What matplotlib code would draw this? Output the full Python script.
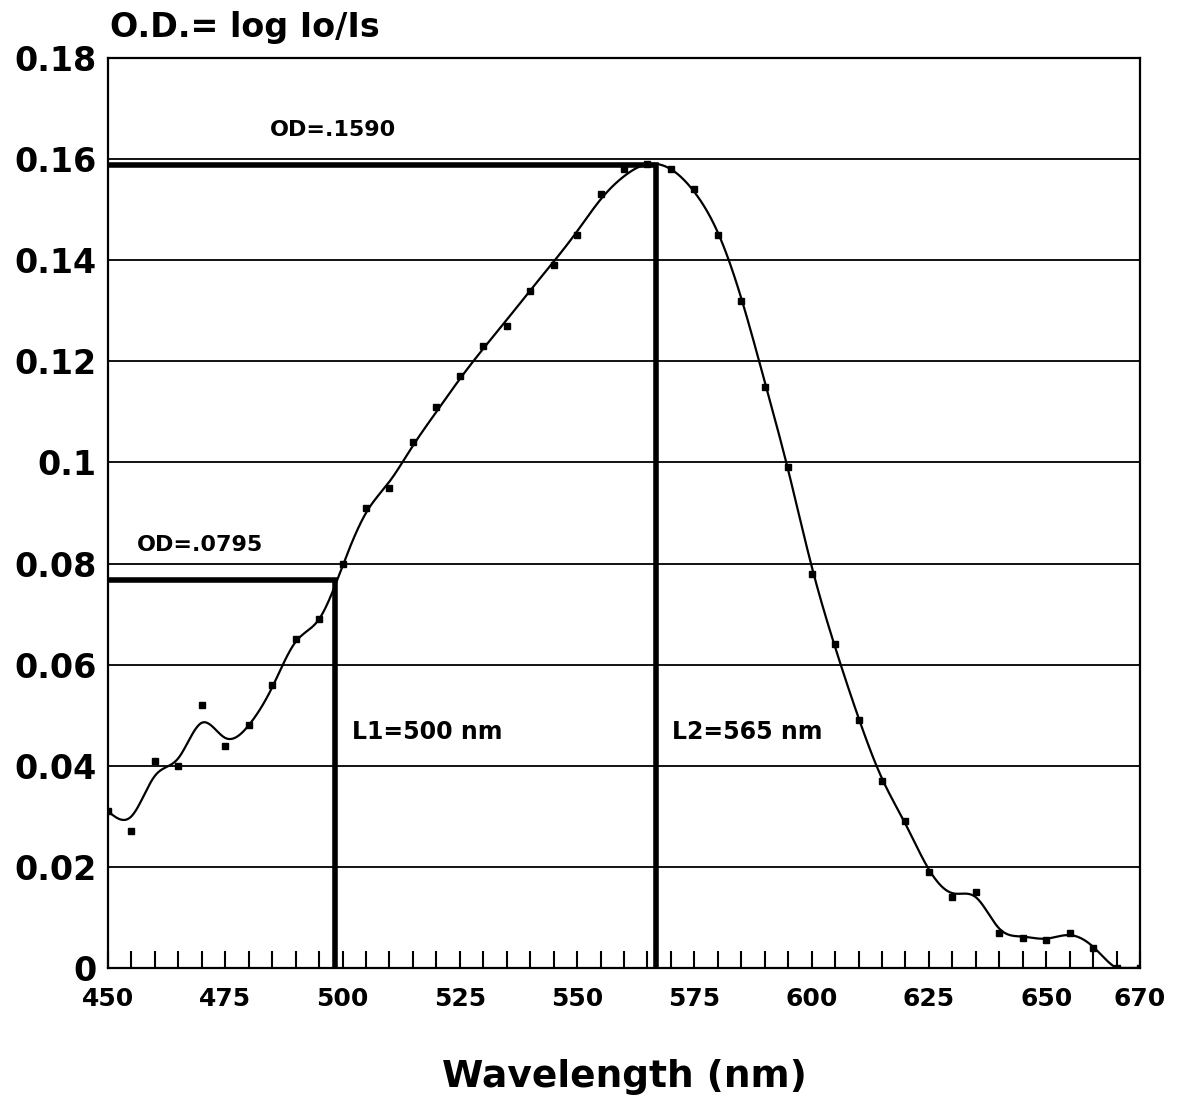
import numpy as np
import matplotlib.pyplot as plt

plt.rcParams['font.family'] = ['DejaVu Sans']
plt.rcParams['font.weight'] = 'bold'

# measured points, every 5 nm
wavelength = np.arange(450, 671, 5)
od_measured = [0.031, 0.027, 0.041, 0.040, 0.052, 0.044, 0.048, 0.056, 0.065, 0.069,
               0.080, 0.091, 0.095, 0.104, 0.111, 0.117, 0.123, 0.127, 0.134, 0.139,
               0.145, 0.153, 0.158, 0.159, 0.158, 0.154, 0.145, 0.132, 0.115, 0.099,
               0.078, 0.064, 0.049, 0.037, 0.029, 0.019, 0.014, 0.015, 0.007, 0.006,
               0.0055, 0.007, 0.004, 0.0, 0.0]
# smoothed curve as drawn (at the same wavelengths)
od_curve = [0.031, 0.030, 0.038, 0.0415, 0.0485, 0.0455, 0.048, 0.0555, 0.0645, 0.069,
            0.0795, 0.0900, 0.0962, 0.1033, 0.1100, 0.1165, 0.1225, 0.1282, 0.1340, 0.1397,
            0.1457, 0.1520, 0.1566, 0.1590, 0.1580, 0.1535, 0.1455, 0.1325, 0.1160, 0.0985,
            0.0795, 0.0635, 0.0495, 0.0375, 0.0285, 0.0195, 0.0148, 0.0140, 0.0078, 0.0062,
            0.0058, 0.0065, 0.0042, 0.0, 0.0]

# half-height markers as drawn
l1_x, l1_od = 498.3, 0.0768
l2_x, l2_od = 566.8, 0.1589

xtick_vals = [450, 475, 500, 525, 550, 575, 600, 625, 650, 670]
ytick_vals = [0, 0.02, 0.04, 0.06, 0.08, 0.1, 0.12, 0.14, 0.16, 0.18]
ytick_labels = ['0', '0.02', '0.04', '0.06', '0.08', '0.1', '0.12', '0.14', '0.16', '0.18']


def natural_spline(x, y, xs):
    x = np.asarray(x, float)
    y = np.asarray(y, float)
    n = len(x)
    h = np.diff(x)
    A = np.zeros((n, n))
    b = np.zeros(n)
    A[0, 0] = A[-1, -1] = 1
    for i in range(1, n - 1):
        A[i, i - 1] = h[i - 1]
        A[i, i] = 2 * (h[i - 1] + h[i])
        A[i, i + 1] = h[i]
        b[i] = 6 * ((y[i + 1] - y[i]) / h[i] - (y[i] - y[i - 1]) / h[i - 1])
    m = np.linalg.solve(A, b)
    idx = np.clip(np.searchsorted(x, xs) - 1, 0, n - 2)
    t = xs - x[idx]
    hi = h[idx]
    a = (x[idx + 1] - xs) / hi
    c = t / hi
    return (a * y[idx] + c * y[idx + 1]
            + ((a ** 3 - a) * m[idx] + (c ** 3 - c) * m[idx + 1]) * hi ** 2 / 6)


fig = plt.figure(figsize=(11.84, 11.07), dpi=100)
ax = fig.add_axes([0.0912, 0.1256, 0.8716, 0.822])

xs = np.linspace(450, 670, 1000)
ys = np.clip(natural_spline(wavelength, od_curve, xs), 0, None)

for yv in ytick_vals[1:-1]:
    ax.axhline(yv, color='black', lw=1.3, zorder=1)

ax.plot(xs, ys, color='black', lw=1.6, zorder=3)
ax.plot(wavelength, od_measured, 's', color='black', ms=5, zorder=4)

# half-height construction lines
ax.plot([450, l1_x, l1_x], [l1_od, l1_od, 0], color='black', lw=4, zorder=2,
        solid_joinstyle='miter')
ax.plot([450, l2_x, l2_x], [l2_od, l2_od, 0], color='black', lw=4, zorder=2,
        solid_joinstyle='miter')

ax.text(484.5, 0.1657, 'OD=.1590', fontsize=16, fontweight='bold', va='center')
ax.text(456.2, 0.0837, 'OD=.0795', fontsize=16, fontweight='bold', va='center')
ax.text(502, 0.0467, 'L1=500 nm', fontsize=17, fontweight='bold', va='center')
ax.text(570.3, 0.0467, 'L2=565 nm', fontsize=17, fontweight='bold', va='center')

ax.set_xlim(450, 670)
ax.set_ylim(0, 0.18)
ax.set_xticks(xtick_vals)
ax.set_xticklabels([str(v) for v in xtick_vals], fontsize=18, fontweight='bold')
ax.set_xticks(wavelength, minor=True)
ax.tick_params(axis='x', which='both', direction='in', length=12, width=1.5,
               pad=14)
ax.set_yticks(ytick_vals)
ax.set_yticklabels(ytick_labels, fontsize=24, fontweight='bold')
ax.tick_params(axis='y', length=0, pad=8)
for s in ax.spines.values():
    s.set_linewidth(1.6)

ax.set_xlabel('Wavelength (nm)', fontsize=27, fontweight='bold', labelpad=34)
fig.text(0.093, 0.975, 'O.D.= log Io/Is', fontsize=24, fontweight='bold',
         ha='left', va='center')

fig.savefig('out.png', dpi=100)
